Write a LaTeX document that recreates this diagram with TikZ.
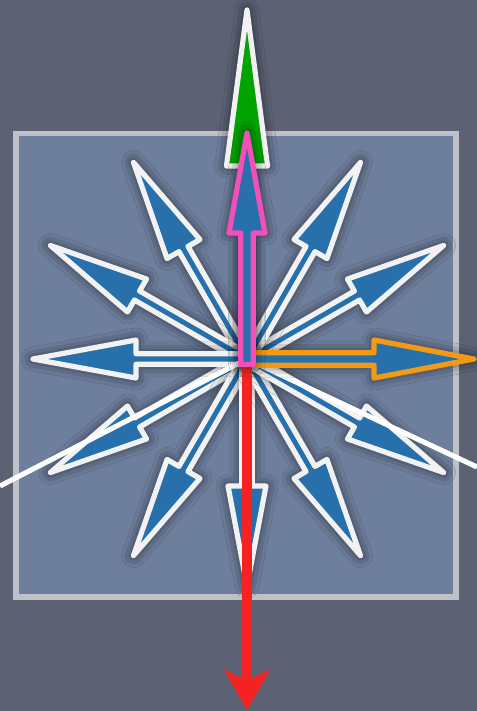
\documentclass[tikz,border=0pt]{standalone}
\usetikzlibrary{arrows.meta,shadows.blur}
\definecolor{bgc}{HTML}{5C6274}
\definecolor{sqc}{HTML}{6E7E9D}
\definecolor{sqb}{HTML}{BEC1C8}
\definecolor{arrblue}{HTML}{2770AC}
\definecolor{arrwhite}{HTML}{F2F2F2}
\definecolor{arrpink}{HTML}{F050B8}
\definecolor{arrorange}{HTML}{F39A14}
\definecolor{arrgreen}{HTML}{00A300}
\definecolor{arrred}{HTML}{F52222}
\tikzset{
  vec/.style={fill=arrblue, draw=arrwhite, line width=3.9pt, line join=round,
    blur shadow={shadow xshift=0pt, shadow yshift=0pt, shadow blur radius=9pt, shadow opacity=75}},
  planeline/.style={draw=white, line width=3.8pt},
}
% angle, length, head length, shaft half-width, head half-width, extra style
\newcommand{\vecshape}[6]{%
  \draw[vec,#6,rotate=#1] (0,-#4) -- ({#2-#3},-#4) -- ({#2-#3},-#5) -- (#2,0)
    -- ({#2-#3},#5) -- ({#2-#3},#4) -- (0,#4) -- cycle;
}
\begin{document}
\begin{tikzpicture}[x=0.75pt,y=0.75pt]
\useasboundingbox (-247,-352) rectangle (230,359);
\fill[bgc] (-247,-352) rectangle (230,359);
% square
\draw[fill=sqc, draw=sqb, line width=3.8pt] (-231,225.5) rectangle (209,-238);
\coordinate (O) at (0,0);
% blue arrows
\foreach \a in {30,60,120,150,210,240,270,300,330}{\vecshape{\a}{227}{100}{5.2}{19}{}}
\vecshape{180}{214}{103}{5.2}{19}{}
% green long arrow
\vecshape{90}{349}{156}{5.2}{20.5}{fill=arrgreen}
% white plane lines
\coordinate (L) at (-247,-127);
\coordinate (R) at (230,-108);
\draw[planeline] (O) -- (L);
\draw[planeline] (O) -- (R);
% orange arrow
\vecshape{0}{227}{100}{6.2}{19}{draw=arrorange}
% red arrow
\coordinate (Rtop) at (0,-8);
\coordinate (Rend) at (0,-351);
\draw[arrred, line width=8.2pt, -{Stealth[length=30pt,width=34pt,inset=8pt]}] (Rtop) -- (Rend);
% pink arrow
\draw[vec, draw=arrpink, line width=3.9pt, line join=round]
  (-6.3,-5.5) -- (-6.3,126) -- (-18,126) -- (0,226) -- (18,126) -- (6.3,126) -- (6.3,-5.5) -- cycle;
\end{tikzpicture}
\end{document}
